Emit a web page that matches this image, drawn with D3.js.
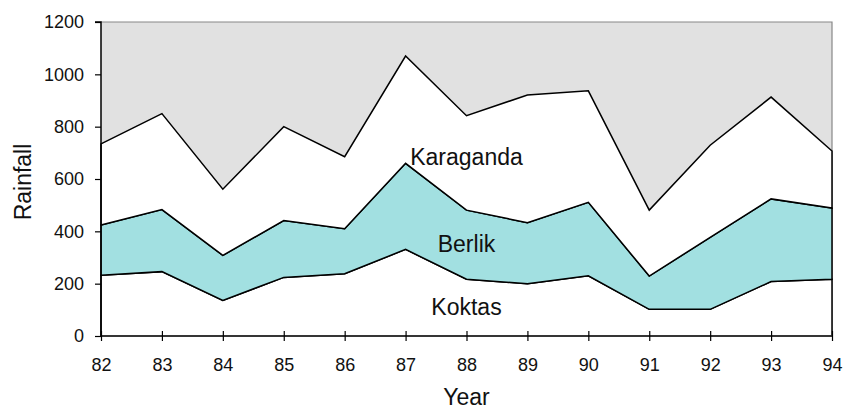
<!DOCTYPE html>
<html>
<head>
<meta charset="utf-8">
<script src="https://cdn.jsdelivr.net/npm/d3@7"></script>
<style>
  html, body { margin: 0; padding: 0; background: #fff; }
  svg { display: block; font-family: "Liberation Sans", Arial, sans-serif; }
</style>
</head>
<body>
<svg id="chart" width="843" height="409"></svg>
<script>
// Annual rainfall by station, stacked
const years = [82, 83, 84, 85, 86, 87, 88, 89, 90, 91, 92, 93, 94];
const koktas    = [232, 246, 136, 224, 238, 331, 217, 200, 230, 102, 102, 208, 217];
const berlik    = [192, 237, 172, 217, 172, 329, 264, 233, 281, 127, 275, 316, 272];
const karaganda = [310, 367, 253, 359, 275, 410, 361, 488, 426, 252, 352, 389, 218];
const seriesNames = ["Koktas", "Berlik", "Karaganda"];
const seriesFills = ["#ffffff", "#a2e0e1", "#ffffff"];
const yTicks = [0, 200, 400, 600, 800, 1000, 1200];

const rows = years.map((y, i) => ({ year: y, Koktas: koktas[i], Berlik: berlik[i], Karaganda: karaganda[i] }));

const svg = d3.select("#chart");
const W = 843, H = 409;
const m = { left: 101, right: W - 832, top: 22, bottom: H - 336 };
const FONT = "'Liberation Sans', Arial, sans-serif";

const x = d3.scaleLinear().domain([years[0], years[years.length - 1]]).range([m.left, W - m.right]);
const y = d3.scaleLinear().domain([0, 1200]).range([H - m.bottom, m.top]);

// plot background
svg.append("rect")
  .attr("x", m.left).attr("y", m.top)
  .attr("width", x.range()[1] - m.left).attr("height", y(0) - m.top)
  .attr("fill", "#e1e1e1");

// frame on top and right
svg.append("path")
  .attr("d", `M${m.left},${m.top}H${x.range()[1]}V${y(0)}`)
  .attr("fill", "none").attr("stroke", "#888").attr("stroke-width", 1.2);

const layers = d3.stack().keys(seriesNames)(rows);

const area = d3.area()
  .x(d => x(d.data.year))
  .y0(d => y(d[0]))
  .y1(d => y(d[1]));

svg.append("g").selectAll("path")
  .data(layers)
  .join("path")
  .attr("d", area)
  .attr("fill", (d, i) => seriesFills[i])
  .attr("stroke", "#000")
  .attr("stroke-width", 1.5)
  .attr("stroke-linejoin", "miter");

// y axis
const yAxis = d3.axisLeft(y).tickValues(yTicks).tickFormat(d3.format("d")).tickSize(6).tickPadding(11);
const gy = svg.append("g").attr("transform", `translate(${m.left},0)`).call(yAxis);
gy.attr("font-family", FONT).attr("font-size", 18);
gy.select(".domain").attr("stroke", "#000").attr("stroke-width", 1.5).attr("d", `M-6,${m.top}H0V${y(0)}`);
gy.selectAll(".tick line").attr("stroke", "#000").attr("stroke-width", 1.2);
gy.selectAll("text").attr("fill", "#111");

// x axis with ticks crossing the baseline
const xAxis = d3.axisBottom(x).tickValues(years).tickFormat(d3.format("d")).tickSize(5).tickPadding(17);
const gx = svg.append("g").attr("transform", `translate(0,${y(0)})`).call(xAxis);
gx.attr("font-family", FONT).attr("font-size", 18);
gx.select(".domain").attr("stroke", "#333").attr("stroke-width", 1.5).attr("d", `M${m.left},0H${x.range()[1]}`);
gx.selectAll(".tick line").attr("y1", -5).attr("stroke", "#000").attr("stroke-width", 1.2);
gx.selectAll("text").attr("fill", "#111");

// axis titles
svg.append("text")
  .attr("x", x(88)).attr("y", 405)
  .attr("text-anchor", "middle").attr("font-size", 23).attr("fill", "#111")
  .text("Year");
svg.append("text")
  .attr("transform", `translate(31,182) rotate(-90)`)
  .attr("text-anchor", "middle").attr("font-size", 23).attr("fill", "#111")
  .text("Rainfall");

// series labels
const labelPos = [
  { name: "Koktas", yr: 88, v: 80 },
  { name: "Berlik", yr: 88, v: 321 },
  { name: "Karaganda", yr: 88, v: 655 }
];
svg.append("g").selectAll("text")
  .data(labelPos)
  .join("text")
  .attr("x", d => x(d.yr))
  .attr("y", d => y(d.v))
  .attr("text-anchor", "middle")
  .attr("font-size", 23).attr("fill", "#111")
  .text(d => d.name);
</script>
</body>
</html>
